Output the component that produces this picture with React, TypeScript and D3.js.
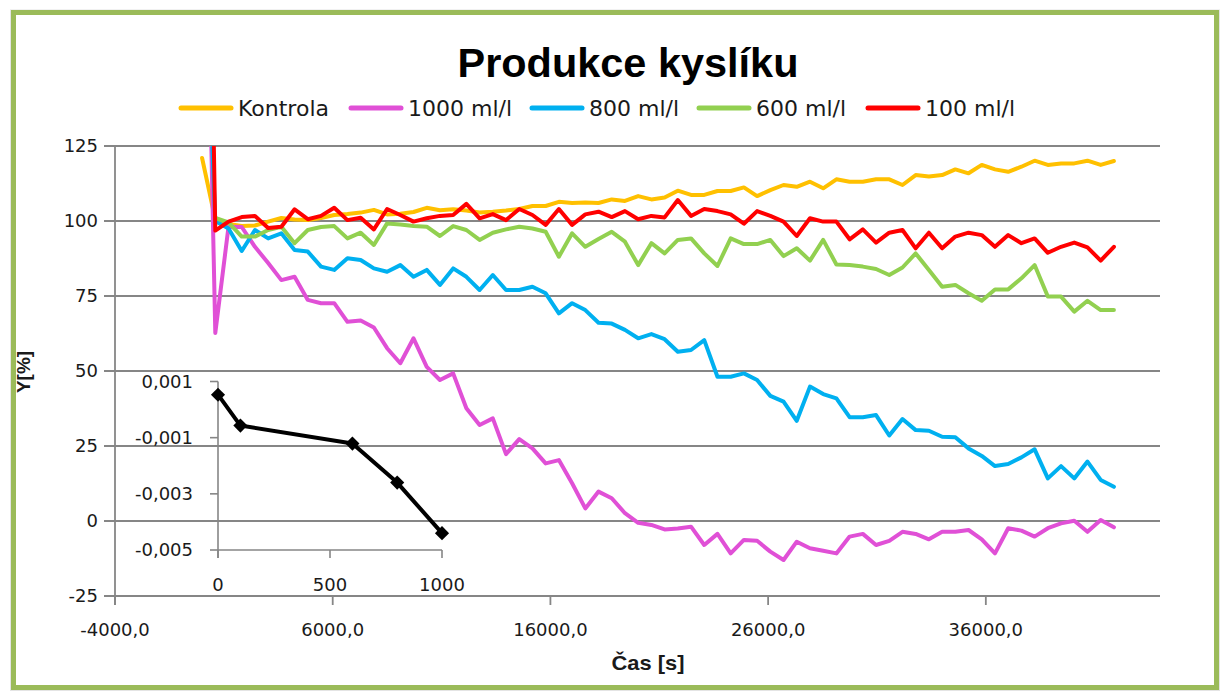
import React from 'react';
import * as d3 from 'd3';

// time axis [s]
const TIME_S = [0, 607, 1214, 1821, 2428, 3035, 3642, 4249, 4856, 5463, 6070, 6677, 7284, 7891, 8498, 9105, 9712, 10319, 10926, 11533, 12140, 12747, 13354, 13961, 14568, 15175, 15782, 16389, 16996, 17603, 18210, 18817, 19424, 20031, 20638, 21245, 21852, 22459, 23066, 23673, 24280, 24887, 25494, 26101, 26708, 27315, 27922, 28529, 29136, 29743, 30350, 30957, 31564, 32171, 32778, 33385, 33992, 34599, 35206, 35813, 36420, 37027, 37634, 38241, 38848, 39455, 40062, 40669, 41276, 41883];

const SERIES_NAMES = ['Kontrola', '1000 ml/l', '800 ml/l', '600 ml/l', '100 ml/l'];
const SERIES_COLORS = ['#FFC000', '#E050D6', '#00B0F0', '#92D050', '#FF0000'];

const KONTROLA = [121, 100.5, 99, 98.3, 98.5, 99.8, 101, 100.5, 100.3, 101, 102, 102.3, 102.8, 103.7, 102.2, 102.4, 103, 104.4, 103.6, 103.9, 103.5, 102.8, 103.1, 103.5, 104, 105, 105, 106.4, 106, 106.2, 106, 107.2, 106.7, 108.3, 107.2, 107.8, 110.1, 108.7, 108.7, 110, 110, 111.2, 108.3, 110.3, 112, 111.4, 113.1, 110.9, 113.9, 113.1, 113.1, 113.9, 113.9, 112, 115.3, 114.8, 115.3, 117.2, 115.9, 118.7, 117.2, 116.4, 118.1, 120.1, 118.7, 119.2, 119.2, 120.1, 118.7, 120];
const ML_1000 = [270, 62.7, 98.1, 98, 91.4, 86, 80.3, 81.4, 73.7, 72.6, 72.6, 66.4, 66.8, 64.5, 57.6, 52.6, 60.9, 51.4, 47, 49.2, 37.6, 32, 34.2, 22.3, 27.3, 24.2, 19.2, 20.3, 12.6, 4.2, 9.8, 7.6, 2.6, -0.6, -1.3, -2.8, -2.5, -1.9, -8, -4.3, -10.8, -6.3, -6.6, -10.2, -13, -6.9, -9.1, -9.9, -10.8, -5.2, -4.3, -8, -6.6, -3.6, -4.3, -6.1, -3.6, -3.6, -3, -6.1, -10.8, -2.4, -3.2, -5.2, -2.4, -0.8, 0.1, -3.6, 0.3, -2.1];
const ML_800 = [210, 100, 97.5, 90, 97, 94.2, 95.9, 90.3, 89.8, 84.8, 83.7, 87.6, 87, 84.2, 83.1, 85.3, 81.4, 83.7, 78.7, 84.2, 81.4, 77, 82, 77, 77, 78.1, 75.9, 69.2, 72.6, 70.3, 66.1, 65.8, 63.7, 60.9, 62.3, 60.6, 56.4, 57, 60.3, 48.1, 48.1, 49.2, 47, 41.7, 39.8, 33.4, 44.8, 42.3, 40.9, 34.6, 34.6, 35.3, 28.5, 34, 30.3, 30.1, 28.1, 27.9, 24.2, 21.7, 18.3, 19, 21.2, 23.9, 14.2, 18.3, 14.2, 19.8, 13.7, 11.4];
const ML_600 = [null, 101, 99.5, 94.8, 94.8, 97, 98.1, 92.6, 97, 98, 98.3, 94.2, 96.1, 92, 99.2, 98.8, 98.3, 98.1, 95, 98.3, 97, 93.7, 96.1, 97.2, 98.1, 97.5, 96.4, 88.1, 95.9, 91.4, 94, 96.4, 93.1, 85.3, 92.6, 89.2, 93.7, 94.2, 89.2, 85, 94.2, 92.3, 92.3, 93.7, 88.3, 90.9, 86.8, 93.7, 85.5, 85.3, 84.8, 84, 82, 84.5, 89.2, 83.7, 78.1, 78.7, 75.9, 73.4, 77.2, 77.2, 80.9, 85.3, 74.8, 74.8, 69.8, 73.4, 70.3, 70.3];
const ML_100 = [350, 96.8, 99.8, 101.3, 101.7, 97.7, 98.1, 103.9, 100.6, 101.7, 104.4, 100.3, 101.1, 97.2, 104, 102, 99.8, 100.9, 101.7, 102, 105.7, 100.9, 102.3, 100.3, 104, 102, 98.7, 104, 98.7, 102.2, 103.1, 101.3, 103.3, 100.6, 101.7, 101.2, 107, 101.7, 104, 103.3, 102.2, 99.1, 103.3, 101.7, 99.8, 95, 100.9, 99.8, 99.8, 93.9, 97.2, 92.8, 96.1, 97, 90.9, 96.1, 90.9, 94.8, 96.1, 95.3, 91.4, 95.3, 92.6, 94.2, 89.4, 91.4, 92.8, 91.2, 86.8, 91.4];

const X_TICKS = [-4000, 6000, 16000, 26000, 36000];
const Y_TICKS = [-25, 0, 25, 50, 75, 100, 125];

// inset chart
const INSET_X = [0, 100, 600, 800, 1000];
const INSET_Y = [0.00053, -0.00057, -0.00121, -0.0026, -0.0044];
const INSET_X_TICKS = [0, 500, 1000];
const INSET_Y_TICKS = [0.001, -0.001, -0.003, -0.005];

const TITLE = 'Produkce kyslíku';
const X_TITLE = 'Čas [s]';
const Y_TITLE = 'Y[%]';

const W = 1223;
const H = 692;
const FONT = '"DejaVu Sans", Verdana, sans-serif';
const GRID = '#868686';
const LEGEND_X = [179, 349, 530, 697, 866];

const comma = (s: string) => s.replace('.', ',');

export default function App() {
  const series = [KONTROLA, ML_1000, ML_800, ML_600, ML_100];
  const x = d3.scaleLinear().domain([-4000, 44000]).range([115, 1160]);
  const y = d3.scaleLinear().domain([-25, 125]).range([596, 146]);
  const line = d3
    .line<number | null>()
    .defined((d) => d !== null)
    .x((_, i) => x(TIME_S[i]))
    .y((d) => y(d as number));

  const ix = d3.scaleLinear().domain([0, 1000]).range([218, 442]);
  const iy = d3.scaleLinear().domain([-0.005, 0.001]).range([550, 381.5]);
  const iline = d3
    .line<number>()
    .x((_, i) => ix(INSET_X[i]))
    .y((d) => iy(d));
  const diamond = d3.symbol(d3.symbolSquare, 100)() as string;

  const [x0, x1] = x.range();
  const [yb, yt] = y.range();

  return (
    <svg
      width={W}
      height={H}
      viewBox={`0 0 ${W} ${H}`}
      style={{ position: 'absolute', left: 0, top: 0, background: '#fff' }}
    >
      <defs>
        <clipPath id="plot">
          <rect x={x0} y={yt} width={x1 - x0} height={yb - yt} />
        </clipPath>
      </defs>
      <rect x={0} y={0} width={W} height={H} fill="#fff" />
      <rect x={11} y={10.5} width={1208} height={679.5} fill="none" stroke="#e4e4e4" strokeWidth={2} />
      <rect x={13.5} y={12.5} width={1203} height={675} fill="#fff" stroke="#9BBB59" strokeWidth={5} />

      {/* title */}
      <text
        x={628}
        y={77}
        textAnchor="middle"
        fontFamily='"Liberation Sans", Arial, sans-serif'
        fontWeight="bold"
        fontSize={40}
        textLength={341}
        lengthAdjust="spacingAndGlyphs"
        fill="#000"
      >
        {TITLE}
      </text>

      {/* legend */}
      {SERIES_NAMES.map((name, k) => (
        <g key={name} transform={`translate(${LEGEND_X[k]},108)`}>
          <line x1={2} x2={52} y1={0} y2={0} stroke={SERIES_COLORS[k]} strokeWidth={5} strokeLinecap="round" />
          <text x={59} y={0} dy="0.36em" fontFamily={FONT} fontSize={22} fill="#1a1a1a">
            {name}
          </text>
        </g>
      ))}

      {/* gridlines + y ticks */}
      {Y_TICKS.map((t) => (
        <g key={t}>
          <line x1={104} x2={x1} y1={y(t)} y2={y(t)} stroke={GRID} strokeWidth={1.8} />
          <text x={98} y={y(t)} dy="0.36em" textAnchor="end" fontFamily={FONT} fontSize={18} fill="#1a1a1a">
            {t}
          </text>
        </g>
      ))}
      {/* y axis */}
      <line x1={x0} x2={x0} y1={yt} y2={yb + 9} stroke={GRID} strokeWidth={1.8} />
      {X_TICKS.map((t) => (
        <g key={t}>
          <line x1={x(t)} x2={x(t)} y1={yb} y2={yb + 9} stroke={GRID} strokeWidth={1.8} />
          <text x={x(t)} y={630} dy="0.36em" textAnchor="middle" fontFamily={FONT} fontSize={18} fill="#1a1a1a">
            {comma(t.toFixed(1))}
          </text>
        </g>
      ))}

      {/* axis titles */}
      <text
        x={648}
        y={662}
        dy="0.36em"
        textAnchor="middle"
        fontFamily='"Liberation Sans", Arial, sans-serif'
        fontWeight="bold"
        fontSize={21}
        textLength={73}
        lengthAdjust="spacingAndGlyphs"
        fill="#1a1a1a"
      >
        {X_TITLE}
      </text>
      <text
        transform="translate(23,372) rotate(-90)"
        textAnchor="middle"
        dy="0.36em"
        fontFamily='"Liberation Sans", Arial, sans-serif'
        fontWeight="bold"
        fontSize={19}
        fill="#1a1a1a"
      >
        {Y_TITLE}
      </text>

      {/* series */}
      <g clipPath="url(#plot)">
        {series.map((s, k) => (
          <path
            key={k}
            d={line(s) as string}
            fill="none"
            stroke={SERIES_COLORS[k]}
            strokeWidth={4}
            strokeLinejoin="round"
            strokeLinecap="round"
          />
        ))}
      </g>

      {/* inset chart */}
      <g>
        <line x1={ix(0)} x2={ix(0)} y1={iy(0.001)} y2={iy(-0.005) + 8} stroke={GRID} strokeWidth={1.6} />
        <line x1={ix(0)} x2={ix(1000)} y1={iy(-0.005)} y2={iy(-0.005)} stroke={GRID} strokeWidth={1.6} />
        {INSET_Y_TICKS.map((t) => (
          <g key={t}>
            <line x1={ix(0) - 8} x2={ix(0)} y1={iy(t)} y2={iy(t)} stroke={GRID} strokeWidth={1.6} />
            <text x={193} y={iy(t)} dy="0.36em" textAnchor="end" fontFamily={FONT} fontSize={18} fill="#1a1a1a">
              {comma(t.toFixed(3))}
            </text>
          </g>
        ))}
        {INSET_X_TICKS.map((t) => (
          <g key={t}>
            <line x1={ix(t)} x2={ix(t)} y1={iy(-0.005)} y2={iy(-0.005) + 8} stroke={GRID} strokeWidth={1.6} />
            <text x={ix(t)} y={585} dy="0.36em" textAnchor="middle" fontFamily={FONT} fontSize={18} fill="#1a1a1a">
              {t}
            </text>
          </g>
        ))}
        <path d={iline(INSET_Y) as string} fill="none" stroke="#000" strokeWidth={4} strokeLinejoin="round" />
        {INSET_Y.map((v, i) => (
          <path
            key={i}
            d={diamond}
            transform={`translate(${ix(INSET_X[i])},${iy(v)}) rotate(45)`}
            fill="#000"
          />
        ))}
      </g>
    </svg>
  );
}
